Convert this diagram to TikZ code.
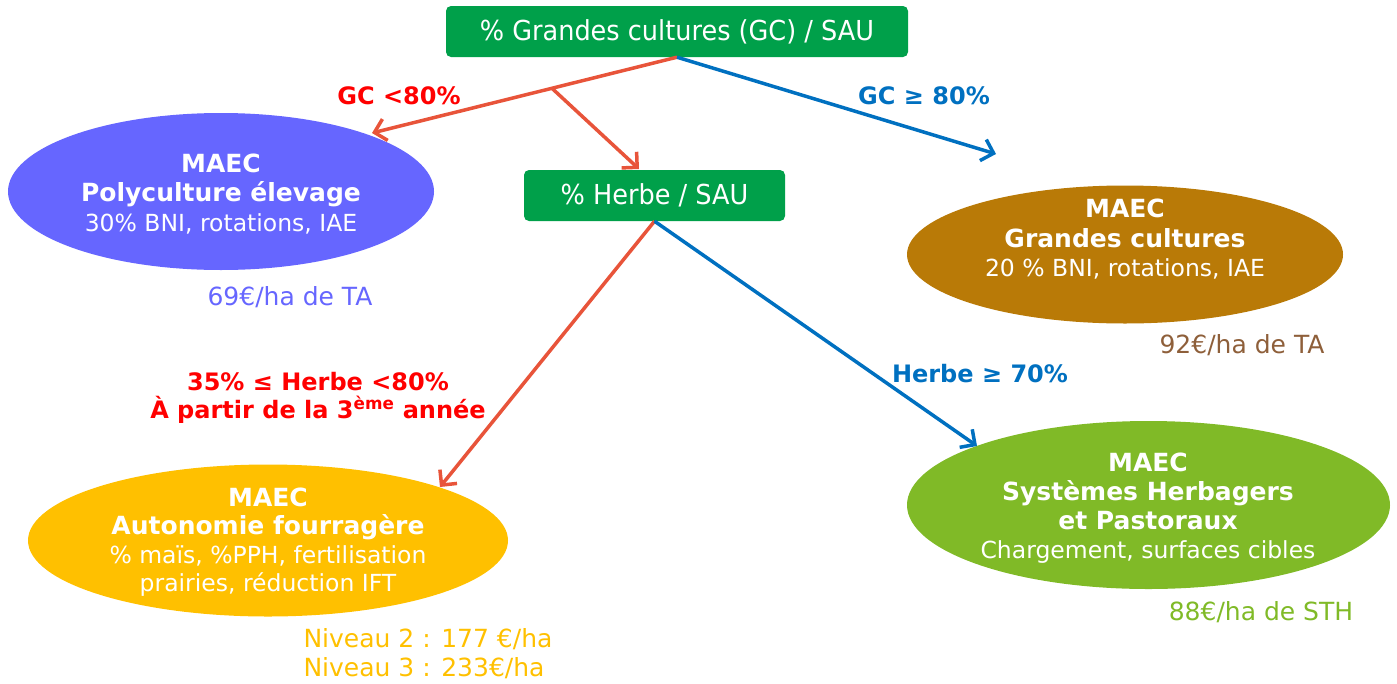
\documentclass[tikz,border=0pt]{standalone}
\usepackage{fontspec}
\setmainfont{DejaVu Sans}
\newfontfamily\boxfont{DejaVu Sans}[FakeStretch=0.93]
\usetikzlibrary{arrows.meta,calc,shapes.geometric}
\definecolor{boxgreen}{HTML}{00A04A}
\definecolor{purp}{HTML}{6666FF}
\definecolor{brownel}{HTML}{B97A07}
\definecolor{brtext}{HTML}{8E5F3A}
\definecolor{yel}{HTML}{FFC000}
\definecolor{grn}{HTML}{80BA27}
\definecolor{arrred}{HTML}{E8543A}
\definecolor{lblred}{HTML}{FF0000}
\definecolor{lblblue}{HTML}{0070C0}
\tikzset{
  decbox/.style={fill=boxgreen,draw=none,rounded corners=5pt,text=white,font=\boxfont\fontsize{27.5}{30}\selectfont,minimum height=51pt,inner sep=0pt},
  maec/.style={ellipse,draw=none,inner sep=0pt},
  eltext/.style={text=white,align=center,font=\fontsize{23.5}{29.5}\selectfont},
  redarrow/.style={draw=arrred,line width=3.5pt,-{Straight Barb[length=11pt,width=22pt,line width=3.5pt]}},
  bluearrow/.style={draw=lblblue,line width=3.5pt,-{Straight Barb[length=11pt,width=22pt,line width=3.5pt]}},
  lbl/.style={font=\bfseries\fontsize{24}{28}\selectfont,align=center},
  price/.style={font=\fontsize{25}{29}\selectfont}
}
\begin{document}
\begin{tikzpicture}[x=1pt,y=-1pt]
\useasboundingbox (0,0) rectangle (1397,683);
% decision boxes
\node[decbox,minimum width=462pt] (gc) at (677,31.5) {\% Grandes cultures (GC) / SAU};
\node[decbox,minimum width=261pt] (herbe) at (654.5,195.5) {\% Herbe / SAU};
% ellipses
\node[maec,fill=purp,minimum width=426pt,minimum height=157pt] (poly) at (221,191.5) {};
\node[maec,fill=brownel,minimum width=436pt,minimum height=138pt] (gcel) at (1125,254.5) {};
\node[maec,fill=yel,minimum width=480pt,minimum height=152pt] (auto) at (268,540.5) {};
\node[maec,fill=grn,minimum width=483pt,minimum height=168pt] (herb) at (1148.5,505) {};
% ellipse texts
\node[eltext] (polyt) at (221,194) {\textbf{\fontsize{25}{29.5}\selectfont MAEC}\\\textbf{\fontsize{25}{29.5}\selectfont Polyculture élevage}\\30\% BNI, rotations, IAE};
\node[eltext] (gct) at (1125,239.5) {\textbf{\fontsize{25}{29.5}\selectfont MAEC}\\\textbf{\fontsize{25}{29.5}\selectfont Grandes cultures}\\20 \% BNI, rotations, IAE};
\node[eltext,font=\fontsize{23.5}{28.5}\selectfont] (autot) at (268,542) {\textbf{\fontsize{25}{28.5}\selectfont MAEC}\\\textbf{\fontsize{25}{28.5}\selectfont Autonomie fourragère}\\\% maïs, \%PPH, fertilisation\\prairies, réduction IFT};
\node[eltext,font=\fontsize{23.5}{29}\selectfont] (herbt) at (1148,508) {\textbf{\fontsize{25}{29}\selectfont MAEC}\\\textbf{\fontsize{25}{29}\selectfont Systèmes Herbagers}\\\textbf{\fontsize{25}{29}\selectfont et Pastoraux}\\Chargement, surfaces cibles};
% prices
\node[price,text=purp] (p1) at (290,297) {69€/ha de TA};
\node[price,text=brtext] (p2) at (1242,345) {92€/ha de TA};
\node[price,text=grn] (p4) at (1261,612) {88€/ha de STH};
\node[price,text=yel,align=left,anchor=west] (p3) at (300,654) {Niveau 2 : 177 €/ha\\Niveau 3 : 233€/ha};
% arrow endpoints
\coordinate (e1) at (372,133);
\coordinate (e2) at (639,169);
\coordinate (e3) at (996,154);
\coordinate (e4) at (440,487);
\coordinate (e5) at (977,446);
\coordinate (s2) at ($(gc.south)!0.41!(e1)$);
% arrows
\draw[redarrow] (gc.south) -- (e1);
\draw[redarrow] (s2) -- (e2);
\draw[bluearrow] (gc.south) -- (e3);
\draw[redarrow] (herbe.south) -- (e4);
\draw[bluearrow] (herbe.south) -- (e5);
% labels
\node[lbl,text=lblred] (l1) at (399,96) {GC <80\%};
\node[lbl,text=lblblue] (l2) at (924,96) {GC ≥ 80\%};
\node[lbl,text=lblblue] (l3) at (980,374) {Herbe ≥ 70\%};
\node[lbl,text=lblred] (l4) at (318,398) {35\% ≤ Herbe <80\%\\À partir de la 3\textsuperscript{ème} année};
\end{tikzpicture}
\end{document}
